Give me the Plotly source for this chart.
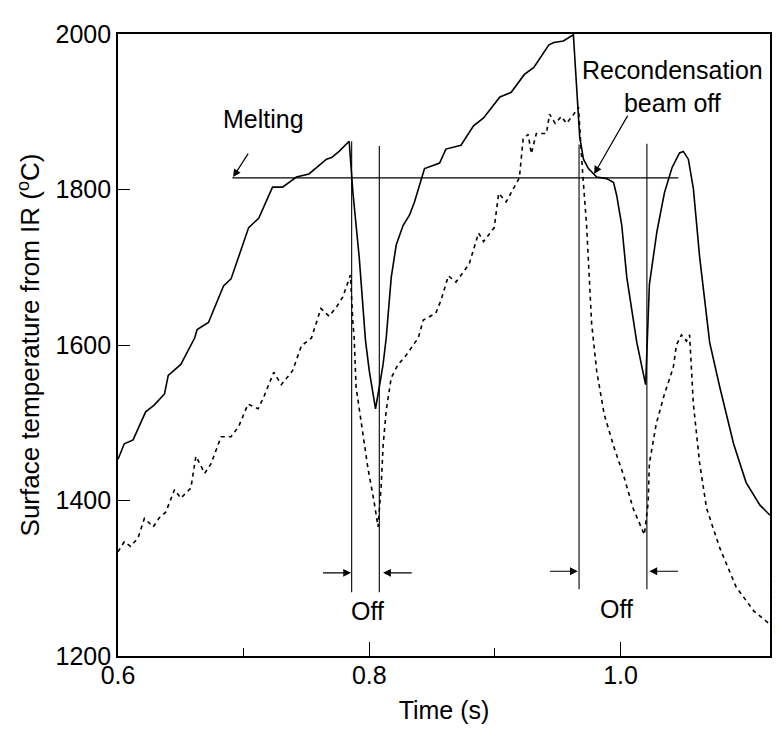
import plotly.graph_objects as go

# Solid curve (upper trace)
solid_t = [0.600, 0.605, 0.612, 0.622, 0.629, 0.637, 0.640, 0.650, 0.661, 0.663, 0.672, 0.684, 0.690,
           0.704, 0.712, 0.723, 0.731, 0.742, 0.752, 0.762, 0.766, 0.770, 0.776, 0.784,
           0.787, 0.792, 0.797, 0.800, 0.805, 0.808, 0.811, 0.8135, 0.8175, 0.8215, 0.827, 0.832, 0.836,
           0.844, 0.856, 0.861, 0.873, 0.883, 0.891, 0.904, 0.913, 0.9235, 0.931, 0.943, 0.947, 0.9545, 0.9625,
           0.9675, 0.9705, 0.9745, 0.981, 0.989, 0.9945, 0.997, 1.001, 1.005, 1.009, 1.013, 1.020,
           1.0215, 1.023, 1.029, 1.035, 1.041, 1.047, 1.050, 1.054, 1.058, 1.063, 1.071, 1.079, 1.090,
           1.100, 1.111, 1.119]
solid_T = [1453, 1473, 1478, 1514, 1523, 1537, 1561, 1575, 1609, 1620, 1629, 1676, 1685,
           1751, 1763, 1803, 1803, 1816, 1820, 1834, 1839, 1841, 1849, 1862,
           1796, 1713, 1606, 1567, 1518, 1546, 1575, 1609, 1687, 1729, 1754, 1767, 1784,
           1827, 1834, 1852, 1857, 1882, 1892, 1919, 1925, 1948, 1957, 1986, 1989, 1991, 1999,
           1868, 1839, 1827, 1816, 1814, 1809, 1792, 1754, 1687, 1644, 1603, 1549,
           1603, 1678, 1746, 1796, 1828, 1847, 1849, 1839, 1801, 1713, 1603, 1546, 1473,
           1423, 1394, 1381]

# Dashed curve (lower trace)
dash_t = [0.600, 0.605, 0.610, 0.616, 0.621, 0.628, 0.633, 0.638, 0.645, 0.650, 0.658, 0.662, 0.669,
          0.674, 0.682, 0.690, 0.696, 0.7035, 0.7115, 0.716, 0.724, 0.730, 0.739, 0.746, 0.754, 0.7615,
          0.768, 0.774, 0.779, 0.785,
          0.787, 0.788, 0.7895, 0.795, 0.799, 0.804, 0.807,
          0.8095, 0.811, 0.8135, 0.8175, 0.823, 0.8295, 0.835, 0.839, 0.843, 0.853, 0.857, 0.863, 0.869,
          0.8795, 0.887, 0.891, 0.8995, 0.903, 0.909, 0.9195, 0.9225, 0.9265, 0.929, 0.933, 0.941, 0.9435,
          0.948, 0.953, 0.957, 0.9625, 0.9665,
          0.968, 0.970, 0.973, 0.977, 0.981, 0.987, 0.9945, 1.0025, 1.010, 1.019,
          1.022, 1.023, 1.0285, 1.035, 1.042, 1.0445, 1.0485, 1.0525, 1.055,
          1.058, 1.063, 1.0685, 1.079, 1.092, 1.106, 1.118]
dash_T = [1334, 1347, 1341, 1352, 1377, 1366, 1378, 1385, 1414, 1403, 1416, 1457, 1435,
          1447, 1482, 1482, 1495, 1524, 1518, 1533, 1565, 1549, 1567, 1599, 1609, 1647,
          1637, 1649, 1662, 1690,
          1628, 1609, 1546, 1482, 1441, 1397, 1366,
          1419, 1470, 1516, 1558, 1575, 1587, 1600, 1609, 1632, 1641, 1657, 1689, 1681,
          1704, 1744, 1733, 1751, 1795, 1784, 1815, 1865, 1871, 1846, 1872, 1872, 1897,
          1885, 1894, 1885, 1896, 1906,
          1865, 1818, 1754, 1628, 1567, 1511, 1470, 1432, 1390, 1356,
          1397, 1448, 1499, 1537, 1571, 1600, 1613, 1605, 1613,
          1524, 1448, 1390, 1339, 1289, 1258, 1242]

# Beam-off marker lines
off_t = [0.786, 0.808, 0.967, 1.021]
off_top = [1862, 1856, 1858, 1859]
off_bottom = [1282, 1282, 1286, 1286]

# Melting temperature line
melt_t = [0.691, 1.046]
melt_T = [1815, 1815]

x_ticks = [0.6, 0.8, 1.0]
x_ticklabels = ["0.6", "0.8", "1.0"]
y_ticks = [1200, 1400, 1600, 1800, 2000]

FONT = "Liberation Sans, Arial, Helvetica, sans-serif"

fig = go.Figure()
fig.add_trace(go.Scatter(x=solid_t, y=solid_T, mode="lines",
                         line=dict(color="black", width=1.6), showlegend=False))
fig.add_trace(go.Scatter(x=dash_t, y=dash_T, mode="lines",
                         line=dict(color="black", width=1.6, dash="4px,4px"), showlegend=False))
for t, a, b in zip(off_t, off_top, off_bottom):
    fig.add_trace(go.Scatter(x=[t, t], y=[b, a], mode="lines",
                             line=dict(color="black", width=1.1), showlegend=False))
fig.add_trace(go.Scatter(x=melt_t, y=melt_T, mode="lines",
                         line=dict(color="black", width=1.3), showlegend=False))

annots = []
def arrow(x0, y0, x1, y1):
    annots.append(dict(x=x1, y=y1, ax=x0, ay=y0, xref="x", yref="y", axref="x", ayref="y",
                       text="", showarrow=True, arrowhead=2, arrowsize=1.3, arrowwidth=1.2,
                       arrowcolor="black"))

# Off arrows
arrow(0.762, 1307, 0.7855, 1307)
arrow(0.835, 1307, 0.811, 1307)
arrow(0.9426, 1309, 0.966, 1309)
arrow(1.047, 1309, 1.023, 1309)
# Melting arrow
arrow(0.7044, 1848, 0.6916, 1816)
# Recondensation arrow
arrow(1.0064, 1897, 0.979, 1820)

def label(x, y, txt, size=25):
    annots.append(dict(x=x, y=y, xref="x", yref="y", text=txt, showarrow=False,
                       font=dict(family=FONT, size=size, color="black")))

label(0.7985, 1258, "Off")
label(0.997, 1261, "Off")
label(0.716, 1891, "Melting")
label(1.0414, 1933, "Recondensation<br>beam off")

annots.append(dict(x=(771 - 110) / (762 - 110), y=(648 - 593) / (648 - 16), xref="paper", yref="paper",
                   text="JG96.120/11c", showarrow=False, textangle=-90, borderpad=0,
                   xanchor="center", yanchor="middle",
                   font=dict(family=FONT, size=11, color="black")))

fig.update_layout(
    annotations=annots,
    width=783, height=731,
    margin=dict(l=110, r=21, t=16, b=83),
    paper_bgcolor="white", plot_bgcolor="white",
    font=dict(family=FONT, size=25, color="black"),
    xaxis=dict(range=[0.6, 1.119], tickvals=x_ticks, ticktext=x_ticklabels,
               ticks="inside", ticklen=14, tickwidth=1.4, tickcolor="black", ticklabelstandoff=-4,
               minor=dict(tickvals=[0.7, 0.9], ticks="inside", ticklen=8, tickwidth=1.4, tickcolor="black"),
               showgrid=False, zeroline=False, showline=True, linecolor="black", linewidth=1.6,
               mirror=True, title=dict(text="Time (s)", standoff=14, font=dict(size=25)),
               tickfont=dict(size=25)),
    yaxis=dict(range=[1200, 2000], tickvals=y_ticks,
               ticks="inside", ticklen=12, tickwidth=1.4, tickcolor="black",
               showgrid=False, zeroline=False, showline=True, linecolor="black", linewidth=1.6,
               mirror=True, title=dict(text="Surface temperature from IR (<sup>o</sup>C)", standoff=8,
                                       font=dict(size=26)),
               tickfont=dict(size=25)),
)

fig.write_html("out.html")
